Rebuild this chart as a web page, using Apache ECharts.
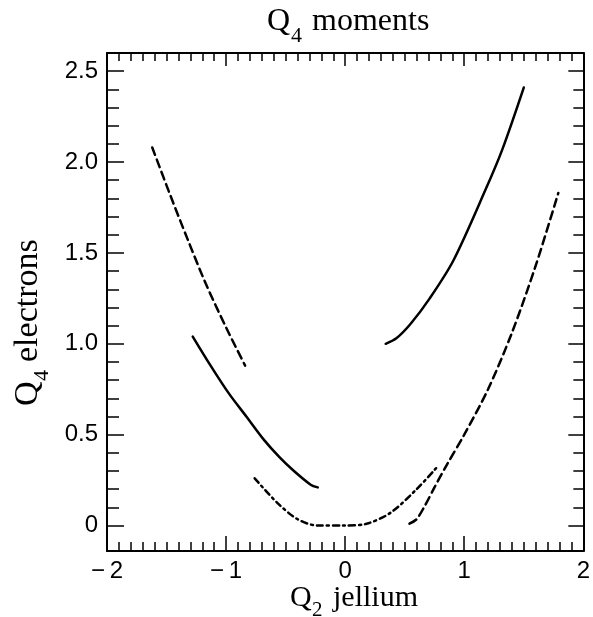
<!DOCTYPE html>
<html>
<head>
<meta charset="utf-8">
<script src="https://cdn.jsdelivr.net/npm/echarts@6/dist/echarts.min.js"></script>
<style>
  html, body { margin: 0; padding: 0; background: #fff; }
  #chart { width: 593px; height: 617px; }
</style>
</head>
<body>
<div id="chart"></div>
<script>
// curve samples (x = Q2 jellium, y = Q4 electrons)
const dashLeftX = [-1.62, -1.47, -1.32, -1.17, -1.0, -0.84]
const dashLeftY = [2.08, 1.82, 1.57, 1.33, 1.09, 0.88]

const solidLeftX = [-1.28, -1.13, -0.98, -0.83, -0.68, -0.55, -0.43, -0.29, -0.23]
const solidLeftY = [1.04, 0.88, 0.73, 0.60, 0.47, 0.375, 0.30, 0.225, 0.21]

const dashDotX = [-0.76, -0.57, -0.4, -0.23, -0.01, 0.18, 0.38, 0.6, 0.77]
const dashDotY = [0.26, 0.125, 0.035, 0.0, 0.0, 0.01, 0.07, 0.2, 0.32]

const solidRightX = [0.34, 0.43, 0.55, 0.71, 0.91, 1.18, 1.32, 1.5]
const solidRightY = [1.0, 1.03, 1.11, 1.25, 1.46, 1.85, 2.07, 2.41]

const dashRightX = [0.54, 0.6, 0.67, 0.75, 0.85, 1.0, 1.2, 1.4, 1.6, 1.79]
const dashRightY = [0.01, 0.035, 0.11, 0.21, 0.33, 0.5, 0.75, 1.06, 1.43, 1.83]

// tick values
const yMajor = [0, 0.5, 1.0, 1.5, 2.0, 2.5]
const yMinor = [0.1, 0.2, 0.3, 0.4, 0.6, 0.7, 0.8, 0.9, 1.1, 1.2, 1.3, 1.4,
  1.6, 1.7, 1.8, 1.9, 2.1, 2.2, 2.3, 2.4]

const zip = (xs, ys) => xs.map((x, i) => [x, ys[i]])

const serif = 'Liberation Serif'
const sans = 'Liberation Sans'

const chart = echarts.init(document.getElementById('chart'))

function xAxisCfg(pos, labels, major, minor) {
  return {
    type: 'value',
    position: pos,
    min: -2,
    max: 2,
    interval: 1,
    axisLine: { show: true, onZero: false, lineStyle: { color: '#000', width: 2 } },
    axisTick: { show: true, inside: true, length: major, lineStyle: { color: '#000', width: 1.5 } },
    minorTick: { show: true, splitNumber: 10, length: minor, lineStyle: { color: '#000', width: 1.5 } },
    axisLabel: {
      show: labels,
      margin: 8,
      fontSize: 24,
      fontFamily: sans,
      color: '#000',
      formatter: v => (v < 0 ? '\u2212\u2009' + Math.abs(v) : String(v))
    },
    splitLine: { show: false },
    minorSplitLine: { show: false }
  }
}

function yAxisCfg(pos, values, labels, len, line) {
  return {
    type: 'value',
    position: pos,
    min: -0.14,
    max: 2.6,
    axisLine: { show: line, onZero: false, lineStyle: { color: '#000', width: 2 } },
    axisTick: {
      show: true, inside: true, length: len, customValues: values,
      lineStyle: { color: '#000', width: 1.5 }
    },
    axisLabel: {
      show: labels,
      customValues: values,
      margin: 9,
      fontSize: 24,
      fontFamily: sans,
      color: '#000',
      formatter: v => (v === 0 ? '0' : v.toFixed(1))
    },
    splitLine: { show: false }
  }
}

function curve(data, type) {
  return {
    type: 'line',
    data: data,
    smooth: 0.3,
    showSymbol: false,
    silent: true,
    lineStyle: { color: '#000', width: 2.5, type: type, cap: 'round' }
  }
}

const option = {
  backgroundColor: '#fff',
  animation: false,
  grid: { left: 107, right: 6, top: 53, bottom: 66 },
  xAxis: [
    xAxisCfg('bottom', true, 15, 9),
    xAxisCfg('top', false, 13, 8)
  ],
  yAxis: [
    yAxisCfg('left', yMajor, true, 17, true),
    yAxisCfg('right', yMajor, false, 15, true),
    yAxisCfg('left', yMinor, false, 12, false),
    yAxisCfg('right', yMinor, false, 10, false)
  ],
  series: [
    curve(zip(dashLeftX, dashLeftY), [8, 5]),
    curve(zip(solidLeftX, solidLeftY), 'solid'),
    curve(zip(dashDotX, dashDotY), [6, 4, 2, 4]),
    curve(zip(solidRightX, solidRightY), 'solid'),
    curve(zip(dashRightX, dashRightY), [8, 5])
  ],
  graphic: [
    // title
    { type: 'text', left: 267, top: 6, style: { text: 'Q', font: '32px ' + serif, fill: '#000' } },
    { type: 'text', left: 291, top: 25, style: { text: '4', font: '22px ' + serif, fill: '#000' } },
    { type: 'text', left: 312, top: 6, style: { text: 'moments', font: '32px ' + serif, fill: '#000' } },
    // x axis name
    { type: 'text', left: 290, top: 583, style: { text: 'Q', font: '30px ' + serif, fill: '#000' } },
    { type: 'text', left: 312, top: 600, style: { text: '2', font: '21px ' + serif, fill: '#000' } },
    { type: 'text', left: 333, top: 583, style: { text: 'jellium', font: '30px ' + serif, fill: '#000' } },
    // y axis name (rotated)
    {
      type: 'group',
      x: 11,
      y: 406,
      rotation: Math.PI / 2,
      children: [
        { type: 'text', x: 0, y: 0, style: { text: 'Q', font: '34px ' + serif, fill: '#000', verticalAlign: 'top' } },
        { type: 'text', x: 25, y: 20, style: { text: '4', font: '22px ' + serif, fill: '#000', verticalAlign: 'top' } },
        { type: 'text', x: 44, y: 0, style: { text: 'electrons', font: '34px ' + serif, fill: '#000', verticalAlign: 'top' } }
      ]
    }
  ]
}

chart.setOption(option)
</script>
</body>
</html>
